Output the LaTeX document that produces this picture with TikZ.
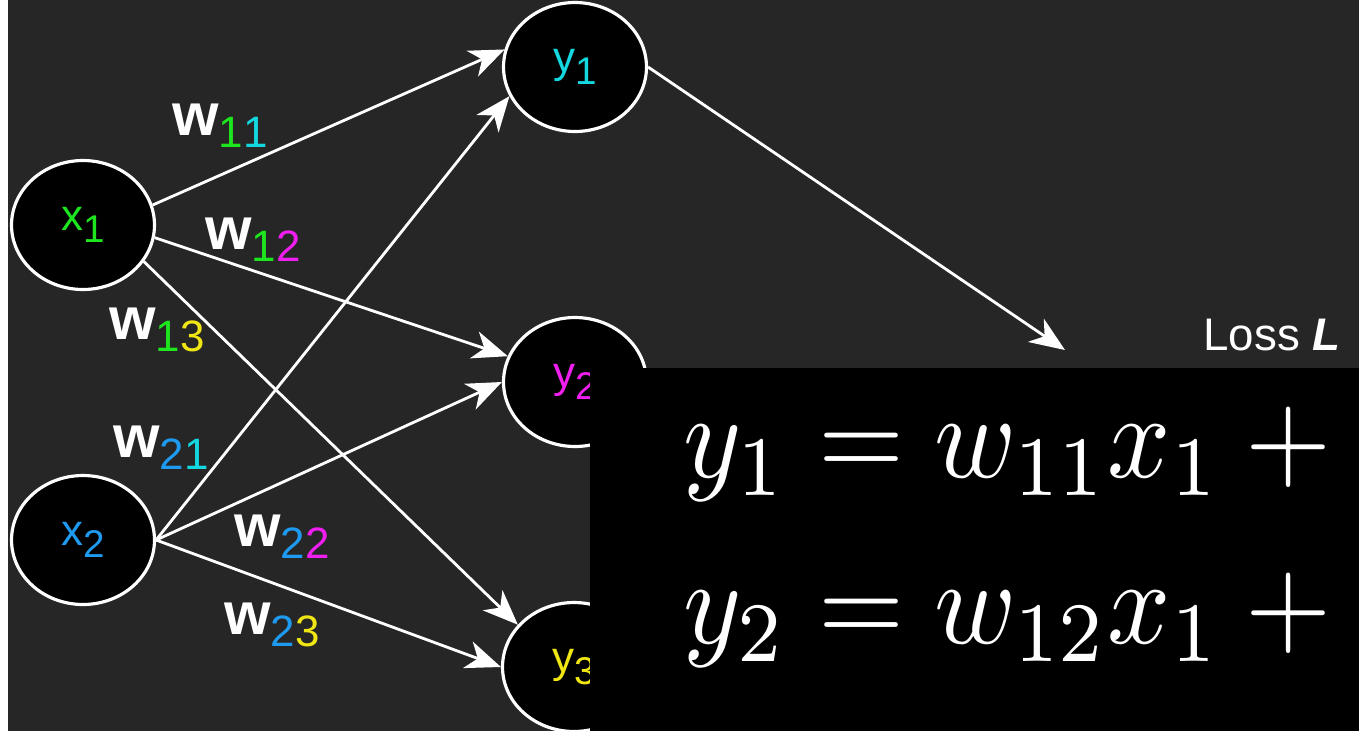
\documentclass[tikz,border=0pt]{standalone}
\usepackage[no-math]{fontspec}
\usepackage{graphicx}
\usepackage{xcolor}
\usepackage{tikz}
\usetikzlibrary{arrows.meta, positioning, shapes.geometric}
\newfontfamily\netfont{Liberation Sans}
\definecolor{board}   {HTML}{262626}
\definecolor{idxgreen}{HTML}{1EE61E}
\definecolor{idxcyan} {HTML}{14D8E0}
\definecolor{idxmag}  {HTML}{F01EF0}
\definecolor{idxyel}  {HTML}{F0E614}
\definecolor{idxblue} {HTML}{1E9BF0}
% letter with a lowered index, all in one colour
\newcommand{\ilab}[3]{\textcolor{#1}{\fontsize{25}{28}\selectfont #2\raisebox{-6.8pt}{\fontsize{22}{24}\selectfont #3}}}
% bold white w with two coloured indices
\newcommand{\wlab}[4]{{\fontsize{34}{36}\selectfont\bfseries w}\raisebox{-6.8pt}{\fontsize{25}{27}\selectfont\textcolor{#1}{#2}\textcolor{#3}{#4}}}

\begin{document}
\begin{tikzpicture}[
  x=0.02cm, y=-0.02cm,
  % One neuron look for both layers; the size floor fixes every ellipse.
  neuron/.style={ellipse, draw=white, fill=black, line width=1.8pt,
                 minimum width=2.86cm, minimum height=2.58cm, inner sep=0pt,
                 font=\netfont},
  link/.style={-{Stealth[length=20pt, width=16pt, inset=6pt]}, line width=1.6pt, color=white},
  wlabel/.style={font=\netfont, text=white, inner sep=0pt},
  losslabel/.style={font=\netfont\fontsize{26}{28}\selectfont, text=white, inner sep=0pt},
  eqline/.style={anchor=base west, inner sep=0pt, text=white}
]
\useasboundingbox (0,0) rectangle (1359,731);

% --- Background ---
\fill[white] (0,0) rectangle (8,731);
\fill[board] (8,0) rectangle (1359,731);

% --- Input layer ---
\node[neuron] (x1) at (83,225) {\ilab{idxgreen}{x}{1}};
\node[neuron] (x2) at (83,540) {\ilab{idxblue}{x}{2}};

% --- Output layer ---
\node[neuron] (y1) at (575,67)  {\ilab{idxcyan}{y}{1}};
\node[neuron] (y2) at (575,382) {\ilab{idxmag}{y}{2}};
\node[neuron] (y3) at (574,667) {\ilab{idxyel}{y}{3}};

% --- Weights from x1 ---
\draw[link] (x1.16)  -- (y1.166);
\draw[link] (x1.-10) -- (y2.159);
\draw[link] (x1.-31) -- (y3.143);

% --- Weights from x2 ---
\draw[link] (x2.east) -- (y1.204);
\draw[link] (x2.east) -- (y2.180);
\draw[link] (x2.east) -- (y3.180);

% --- Weight labels ---
\node[wlabel] (w11) at (220,126) {\wlab{idxgreen}{1}{idxcyan}{1}};
\node[wlabel] (w12) at (253,240) {\wlab{idxgreen}{1}{idxmag}{2}};
\node[wlabel] (w13) at (157,330) {\wlab{idxgreen}{1}{idxyel}{3}};
\node[wlabel] (w21) at (161,448) {\wlab{idxblue}{2}{idxcyan}{1}};
\node[wlabel] (w22) at (282,537) {\wlab{idxblue}{2}{idxmag}{2}};
\node[wlabel] (w23) at (272,625) {\wlab{idxblue}{2}{idxyel}{3}};

% --- Loss ---
\coordinate (lossin) at (1065,350);
\draw[link] (y1.east) -- (lossin);
\node[losslabel] (loss) at (1272,335) {Loss \textbf{\textit{L}}};

% --- Equation panel, cut at the picture edge ---
\begin{scope}
  \clip (590,368) rectangle (1359,731);
  \fill[black] (590,368) rectangle (1359,731);
  \node[eqline] (eqa) at (683,477) {\scalebox{6.3}[6.88]{$y_1 = w_{11}x_1 + w_{21}x_2$}};
  \node[eqline] (eqb) at (683,643) {\scalebox{6.3}[6.88]{$y_2 = w_{12}x_1 + w_{22}x_2$}};
\end{scope}

\end{tikzpicture}
\end{document}
